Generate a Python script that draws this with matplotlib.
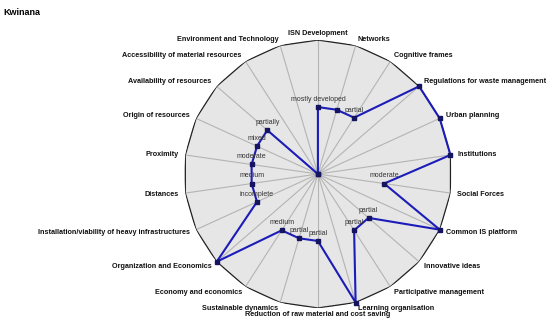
import numpy as np
import matplotlib
matplotlib.use("Agg")
import matplotlib.pyplot as plt

plt.rcParams['font.family'] = ['Liberation Sans', 'DejaVu Sans']

# Axes, clockwise from the top
categories = [
    'ISN Development', 'Networks', 'Cognitive frames',
    'Regulations for waste management', 'Urban planning', 'Institutions',
    'Social Forces', 'Common IS platform', 'Innovative ideas',
    'Participative management', 'Learning organisation',
    'Reduction of raw material and cost saving', 'Sustainable dynamics',
    'Economy and economics', 'Organization and Economics',
    'Installation/viability of heavy infrastructures', 'Distances',
    'Proximity', 'Origin of resources', 'Availability of resources',
    'Accessibility of material resources', 'Environment and Technology',
]
values = [0.5, 0.5, 0.5, 1.0, 1.0, 1.0, 0.5, 1.0, 0.5, 0.5, 1.0,
          0.5, 0.5, 0.5, 1.0, 0.5, 0.5, 0.5, 0.5, 0.5, 0.0, 0.0]
point_labels = ['mostly developed', '', 'partial', '', '', '', 'moderate', '',
                'partial', 'partial', '', 'partial', 'partial', 'medium', '',
                'incomplete', 'medium', 'moderate', 'mixed', 'partially', '', '']

n = len(categories)
theta = np.linspace(0, 2 * np.pi, n, endpoint=False)
theta_c = np.append(theta, theta[0])

fig = plt.figure(figsize=(5.5, 3.24), dpi=100)
ax = fig.add_axes([0.3345, 0.0494, 0.487, 0.827], projection='polar')
ax.set_theta_zero_location('N')
ax.set_theta_direction(-1)
ax.set_ylim(0, 1)
ax.grid(False)
ax.set_xticks([])
ax.set_yticks([])
ax.spines['polar'].set_visible(False)
ax.patch.set_visible(False)

# background polygon + spokes
ax.fill(theta_c, np.ones(n + 1), color='#e6e6e6', zorder=0)
for t in theta:
    ax.plot([t, t], [0, 1], color='#b4b4b4', lw=0.8, zorder=1)
ax.plot(theta_c, np.ones(n + 1), color='#222222', lw=0.9, zorder=2)

# data
vals_c = np.append(values, values[0])
ax.plot(theta_c, vals_c, color='#1c1cb8', lw=1.5, zorder=3, clip_on=False)
ax.plot(theta, values, 's', color='#141460', ms=3.2, zorder=4, clip_on=False)

for t, v, lab in zip(theta, values, point_labels):
    if lab:
        ax.annotate(lab, (t, v), xytext=(0, 5.5), textcoords='offset points',
                    ha='center', va='center', fontsize=5, color='#333333',
                    zorder=5)

# axis labels
for t, lab in zip(theta, categories):
    s = np.sin(t)
    if abs(s) < 1e-6:
        ha = 'center'
    elif s > 0:
        ha = 'left'
    else:
        ha = 'right'
    ax.text(t, 1.05, lab, ha=ha, va='center', fontsize=5.2,
            fontweight='bold', color='#111111')

fig.text(0.006, 0.975, 'Kwinana', ha='left', va='top', fontsize=6.5,
         fontweight='bold')

fig.savefig('out.png', dpi=100, facecolor='white')
